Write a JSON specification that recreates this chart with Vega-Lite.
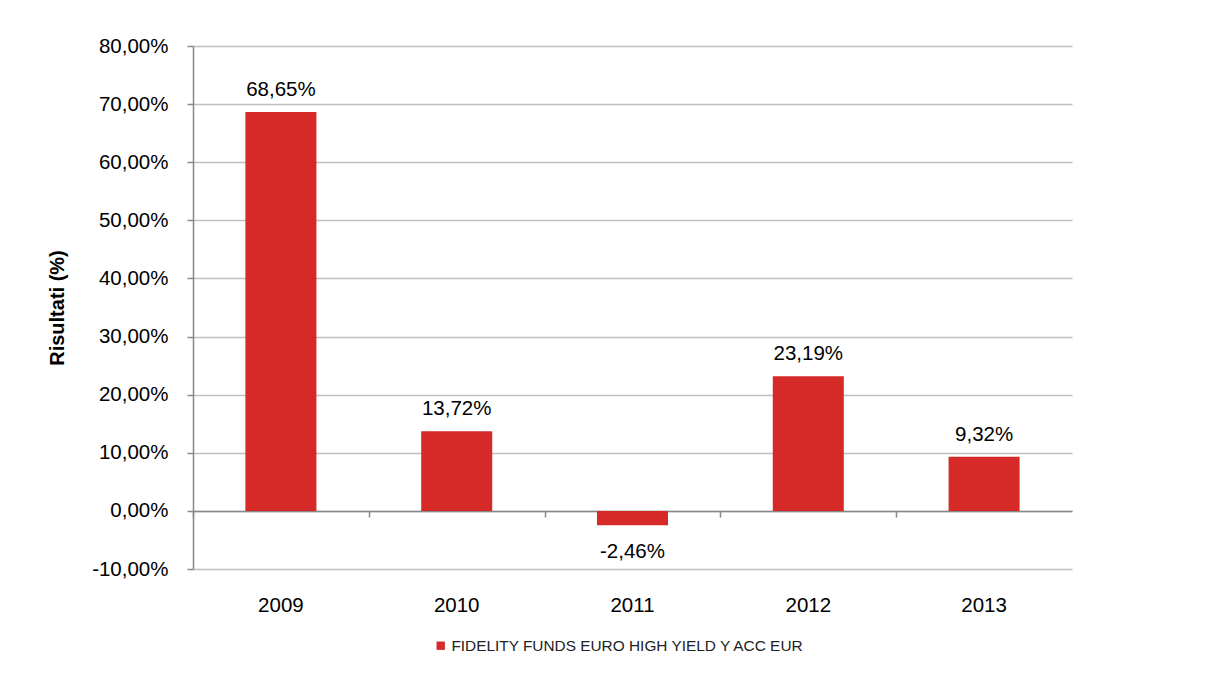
{
  "$schema": "https://vega.github.io/schema/vega-lite/v6.json",
  "autosize": {"type": "none"},
  "width": 879,
  "height": 523,
  "padding": {"left": 193, "top": 46, "right": 152, "bottom": 112},
  "background": "white",
  "config": {
    "locale": {"number": {"decimal": ",", "thousands": ".", "grouping": [3], "currency": ["€", ""], "minus": "-"}},
    "view": {"stroke": null},
    "font": "Liberation Sans",
    "axis": {"labelFont": "Liberation Sans", "titleFont": "Liberation Sans", "labelColor": "#000000", "titleColor": "#000000"}
  },
  "data": {
    "values": [
      {"anno": "2009", "valore": 0.6865, "serie": "FIDELITY FUNDS EURO HIGH YIELD Y ACC EUR"},
      {"anno": "2010", "valore": 0.1372, "serie": "FIDELITY FUNDS EURO HIGH YIELD Y ACC EUR"},
      {"anno": "2011", "valore": -0.0246, "serie": "FIDELITY FUNDS EURO HIGH YIELD Y ACC EUR"},
      {"anno": "2012", "valore": 0.2319, "serie": "FIDELITY FUNDS EURO HIGH YIELD Y ACC EUR"},
      {"anno": "2013", "valore": 0.0932, "serie": "FIDELITY FUNDS EURO HIGH YIELD Y ACC EUR"}
    ]
  },
  "encoding": {
    "y": {
      "field": "valore", "type": "quantitative",
      "scale": {"domain": [-0.1, 0.8], "nice": false},
      "axis": {
        "title": "Risultati (%)", "titleFontSize": 20, "titleFontWeight": "bold", "titlePadding": 24,
        "format": ".2%", "values": [-0.1, 0, 0.1, 0.2, 0.3, 0.4, 0.5, 0.6, 0.7, 0.8],
        "labelFontSize": 20.5, "labelPadding": 19, "tickSize": 6, "tickColor": "#888888", "tickWidth": 1.5,
        "domainColor": "#888888", "domainWidth": 1.5,
        "gridColor": "#BFBFBF", "gridWidth": 1.5
      }
    }
  },
  "resolve": {"axis": {"x": "independent"}},
  "layer": [
    {
      "mark": {"type": "bar", "color": "#D52A28"},
      "encoding": {
        "x": {
          "field": "anno", "type": "nominal",
          "scale": {"paddingInner": 0.596, "paddingOuter": 0.298},
          "axis": {"orient": "bottom", "title": null, "domain": false, "ticks": false, "grid": false, "labelAngle": 0, "labelFontSize": 20.5, "labelPadding": 26}
        },
        "color": {
          "field": "serie", "type": "nominal",
          "scale": {"range": ["#D52A28"]},
          "legend": {"title": null, "orient": "none", "legendX": 240, "legendY": 592, "symbolType": "square", "symbolSize": 70, "symbolStrokeWidth": 0, "labelFontSize": 15.4, "labelFont": "Liberation Sans", "labelColor": "#222222", "labelLimit": 600, "labelOffset": 3}
        }
      }
    },
    {
      "transform": [{"filter": "datum.valore >= 0"}],
      "mark": {"type": "text", "baseline": "alphabetic", "dy": -16, "fontSize": 20.5, "font": "Liberation Sans", "color": "#000000"},
      "encoding": {
        "x": {
          "field": "anno", "type": "nominal",
          "axis": {"orient": "bottom", "title": null, "labels": false, "grid": false, "domain": true, "ticks": true, "tickOffset": -87.9, "offset": -58, "domainColor": "#888888", "domainWidth": 1.5, "tickColor": "#888888", "tickWidth": 1.5, "tickSize": 6}
        },
        "text": {"field": "valore", "type": "quantitative", "format": ".2%"}
      }
    },
    {
      "transform": [{"filter": "datum.valore < 0"}],
      "mark": {"type": "text", "baseline": "alphabetic", "dy": 33, "fontSize": 20.5, "font": "Liberation Sans", "color": "#000000"},
      "encoding": {
        "x": {"field": "anno", "type": "nominal", "axis": null},
        "text": {"field": "valore", "type": "quantitative", "format": ".2%"}
      }
    }
  ]
}
